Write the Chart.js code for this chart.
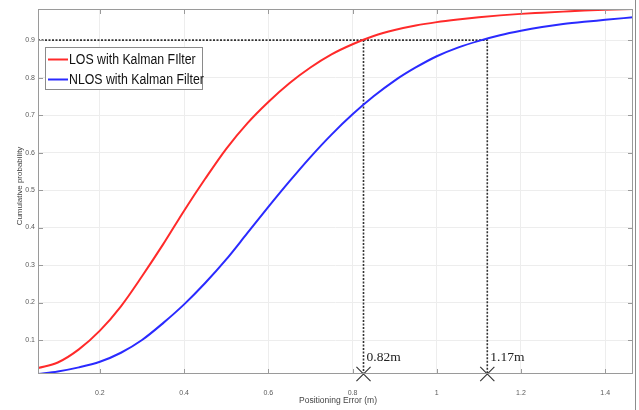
<!DOCTYPE html>
<html>
<head>
<meta charset="utf-8">
<script src="https://cdn.jsdelivr.net/npm/chart.js@4"></script>
<style>
html,body{margin:0;padding:0;background:#fff;overflow:hidden;}
#wrap{width:639px;height:410px;position:relative;}
</style>
</head>
<body>
<div id="wrap"><canvas id="c" width="639" height="410"></canvas></div>
<script>
// ---- data ----
const xValues   = [0.053, 0.1, 0.15, 0.2, 0.25, 0.3, 0.35, 0.4, 0.45, 0.5, 0.55, 0.6, 0.65, 0.7, 0.75, 0.8, 0.85, 0.9, 0.95, 1.0, 1.05, 1.1, 1.15, 1.2, 1.25, 1.3, 1.35, 1.4, 1.466];
const losValues = [0.025, 0.04, 0.075, 0.125, 0.19, 0.27, 0.355, 0.445, 0.53, 0.61, 0.678, 0.735, 0.785, 0.827, 0.862, 0.889, 0.911, 0.927, 0.939, 0.948, 0.955, 0.961, 0.966, 0.970, 0.973, 0.976, 0.979, 0.981, 0.983];
const nlosValues= [0.009, 0.016, 0.027, 0.042, 0.066, 0.1, 0.145, 0.195, 0.252, 0.315, 0.385, 0.455, 0.523, 0.588, 0.648, 0.702, 0.75, 0.792, 0.827, 0.857, 0.88, 0.898, 0.913, 0.925, 0.935, 0.943, 0.949, 0.954, 0.961];
const seriesNames = ['LOS with Kalman FIlter', 'NLOS with Kalman Filter'];
const xTickValues = [0.2, 0.4, 0.6, 0.8, 1.0, 1.2, 1.4];
const yTickValues = [0.1, 0.2, 0.3, 0.4, 0.5, 0.6, 0.7, 0.8, 0.9];
const markerX = [0.826, 1.12];
const markerLabels = ['0.82m', '1.17m'];
const thresholdY = 0.9;
const xMin = 0.053, xMax = 1.466, yMin = 0.0093, yMax = 0.983;
const xTitle = 'Positioning Error (m)';
const yTitle = 'Cumulative probability';

const RED = '#ff2a2a', BLUE = '#2a2aff';

const guideData = [
  {x: xMin, y: thresholdY}, {x: markerX[1], y: thresholdY}, {x: markerX[1], y: yMin},
  {x: markerX[0], y: null},
  {x: markerX[0], y: thresholdY}, {x: markerX[0], y: yMin}
];

const decoPlugin = {
  id: 'deco',
  afterDraw(chart) {
    const ctx = chart.ctx, a = chart.chartArea;
    const xs = chart.scales.x, ys = chart.scales.y;
    ctx.save();
    // frame
    ctx.strokeStyle = '#9a9a9a'; ctx.lineWidth = 1;
    ctx.strokeRect(a.left + 0.5, a.top + 0.5, a.right - a.left - 1, a.bottom - a.top - 1);
    // image border on the right edge
    ctx.strokeStyle = '#8c8c8c';
    ctx.beginPath(); ctx.moveTo(635.5, 0); ctx.lineTo(635.5, 410); ctx.stroke();
    // inward ticks
    ctx.strokeStyle = '#9a9a9a';
    ctx.beginPath();
    xTickValues.forEach(v => {
      const px = Math.round(xs.getPixelForValue(v)) + 0.5;
      ctx.moveTo(px, a.bottom); ctx.lineTo(px, a.bottom - 5);
      ctx.moveTo(px, a.top); ctx.lineTo(px, a.top + 5);
    });
    yTickValues.forEach(v => {
      const py = Math.round(ys.getPixelForValue(v)) + 0.5;
      ctx.moveTo(a.left, py); ctx.lineTo(a.left + 5, py);
      ctx.moveTo(a.right, py); ctx.lineTo(a.right - 5, py);
    });
    ctx.stroke();

    // axis titles
    ctx.fillStyle = '#444';
    ctx.font = '8.5px "Liberation Sans", Arial, sans-serif';
    ctx.textAlign = 'center'; ctx.textBaseline = 'middle';
    ctx.fillText(xTitle, 338, 401);
    ctx.save();
    ctx.translate(20, 186); ctx.rotate(-Math.PI / 2);
    ctx.font = '8px "Liberation Sans", Arial, sans-serif';
    ctx.fillText(yTitle, 0, 0);
    ctx.restore();

    // marker labels
    ctx.fillStyle = '#222';
    ctx.font = '13.5px "Liberation Serif", "Times New Roman", serif';
    ctx.textAlign = 'left'; ctx.textBaseline = 'alphabetic';
    markerX.forEach((v, i) => {
      const px = xs.getPixelForValue(v);
      ctx.fillText(markerLabels[i], px + 3, 361);
    });

    // legend
    const lx = 45.5, ly = 47.5, lw = 157, lh = 42;
    ctx.fillStyle = '#fff';
    ctx.fillRect(lx, ly, lw, lh);
    ctx.strokeStyle = '#8a8a8a'; ctx.lineWidth = 1;
    ctx.strokeRect(lx, ly, lw, lh);
    const ds = chart.data.datasets;
    [0, 1].forEach(i => {
      const cy = 59.5 + i * 20;
      ctx.strokeStyle = ds[i].borderColor; ctx.lineWidth = 2;
      ctx.beginPath(); ctx.moveTo(48, cy); ctx.lineTo(68, cy); ctx.stroke();
      ctx.save();
      ctx.translate(69, cy + 0.5);
      ctx.scale(0.88, 1);
      ctx.fillStyle = '#111';
      ctx.font = '14px "Liberation Sans", Arial, sans-serif';
      ctx.textAlign = 'left'; ctx.textBaseline = 'middle';
      ctx.fillText(seriesNames[i], 0, 0);
      ctx.restore();
    });
    ctx.restore();
  }
};

new Chart(document.getElementById('c'), {
  type: 'line',
  data: {
    datasets: [
      { label: seriesNames[0], data: xValues.map((x, i) => ({x, y: losValues[i]})),
        borderColor: RED, borderWidth: 2, pointRadius: 0, cubicInterpolationMode: 'monotone', fill: false },
      { label: seriesNames[1], data: xValues.map((x, i) => ({x, y: nlosValues[i]})),
        borderColor: BLUE, borderWidth: 2, pointRadius: 0, cubicInterpolationMode: 'monotone', fill: false },
      { label: 'guide', data: guideData, borderColor: '#333', borderWidth: 1.6, borderDash: [2, 1.5],
        pointRadius: 0, spanGaps: false, tension: 0, fill: false },
      { label: 'markers', data: markerX.map(x => ({x, y: yMin})), showLine: false,
        pointStyle: 'crossRot', pointRadius: 10, pointBorderWidth: 1.1,
        pointBorderColor: '#333', pointBackgroundColor: '#333', clip: false }
    ]
  },
  options: {
    responsive: false, animation: false, devicePixelRatio: 1,
    layout: { autoPadding: false, padding: { left: 0, right: 6, top: 9, bottom: 0 } },
    plugins: { legend: { display: false }, tooltip: { enabled: false } },
    scales: {
      x: {
        type: 'linear', min: xMin, max: xMax,
        afterBuildTicks: s => { s.ticks = xTickValues.map(v => ({value: v})); },
        afterFit: s => { s.height = 36; },
        grid: { color: '#ededed', drawTicks: false },
        border: { display: false },
        ticks: { padding: 15, color: '#5a5a5a', font: { family: 'Liberation Sans', size: 7 },
          callback: v => String(Math.round(v * 10) / 10) }
      },
      y: {
        type: 'linear', min: yMin, max: yMax,
        afterBuildTicks: s => { s.ticks = yTickValues.map(v => ({value: v})); },
        afterFit: s => { s.width = 38; },
        grid: { color: '#ededed', drawTicks: false },
        border: { display: false },
        ticks: { padding: 3, color: '#5a5a5a', font: { family: 'Liberation Sans', size: 7 },
          callback: v => String(Math.round(v * 10) / 10) }
      }
    }
  },
  plugins: [decoPlugin]
});
</script>
</body>
</html>
